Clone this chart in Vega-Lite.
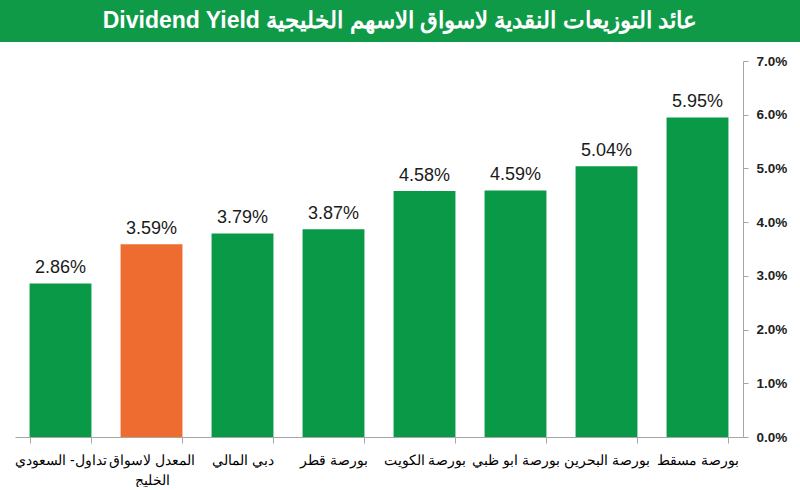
{
  "$schema": "https://vega.github.io/schema/vega-lite/v6.json",
  "padding": 0,
  "background": "white",
  "spacing": 19,
  "bounds": "flush",
  "config": {"view": {"stroke": null}, "font": "Liberation Sans"},
  "vconcat": [
    {
      "width": 800,
      "height": 42,
      "view": {"fill": "#0f9a48", "stroke": null},
      "data": {"values": [{"title": "Dividend Yield  عائد التوزيعات النقدية لاسواق الاسهم الخليجية"}]},
      "mark": {"type": "text", "color": "white", "fontSize": 23, "fontWeight": "bold", "font": "Liberation Sans"},
      "encoding": {"text": {"field": "title"}}
    },
    {
      "width": 743,
      "height": 376,
      "data": {
        "values": [
          {"market": "تداول- السعودي", "yield": 0.0286, "group": "market"},
          {"market": "المعدل لاسواق|الخليج", "yield": 0.0359, "group": "average"},
          {"market": "دبي المالي", "yield": 0.0379, "group": "market"},
          {"market": "بورصة قطر", "yield": 0.0387, "group": "market"},
          {"market": "بورصة الكويت", "yield": 0.0458, "group": "market"},
          {"market": "بورصة ابو ظبي", "yield": 0.0459, "group": "market"},
          {"market": "بورصة البحرين", "yield": 0.0504, "group": "market"},
          {"market": "بورصة مسقط", "yield": 0.0595, "group": "market"}
        ]
      },
      "encoding": {
        "x": {
          "field": "market",
          "type": "nominal",
          "sort": null,
          "scale": {"range": [15, 743], "paddingInner": 0.32, "paddingOuter": 0.16},
          "axis": {
            "title": null,
            "labelAngle": 0,
            "labelExpr": "split(datum.label, '|')",
            "labelFontSize": 14,
            "labelLineHeight": 20,
            "labelColor": "#000000",
            "labelPadding": 10,
            "labelOverlap": false,
            "labelLimit": 0,
            "tickBand": "extent",
            "tickSize": 6,
            "tickColor": "#a6a6a6",
            "domainColor": "#a6a6a6"
          }
        },
        "y": {
          "field": "yield",
          "type": "quantitative",
          "scale": {"domain": [0, 0.07]},
          "axis": {
            "orient": "right",
            "title": null,
            "grid": false,
            "values": [0, 0.01, 0.02, 0.03, 0.04, 0.05, 0.06, 0.07],
            "format": ".1%",
            "labelFontSize": 13.5,
            "labelFontWeight": "bold",
            "labelColor": "#222222",
            "labelPadding": 8,
            "tickSize": 5,
            "tickColor": "#a6a6a6",
            "domainColor": "#a6a6a6"
          }
        }
      },
      "layer": [
        {
          "mark": {"type": "bar"},
          "encoding": {
            "color": {
              "field": "group",
              "type": "nominal",
              "scale": {"domain": ["market", "average"], "range": ["#0a9a47", "#ee6c2f"]},
              "legend": null
            }
          }
        },
        {
          "mark": {"type": "text", "baseline": "bottom", "dy": -6, "fontSize": 18, "color": "#1a1a1a"},
          "encoding": {"text": {"field": "yield", "type": "quantitative", "format": ".2%"}}
        }
      ]
    }
  ]
}
